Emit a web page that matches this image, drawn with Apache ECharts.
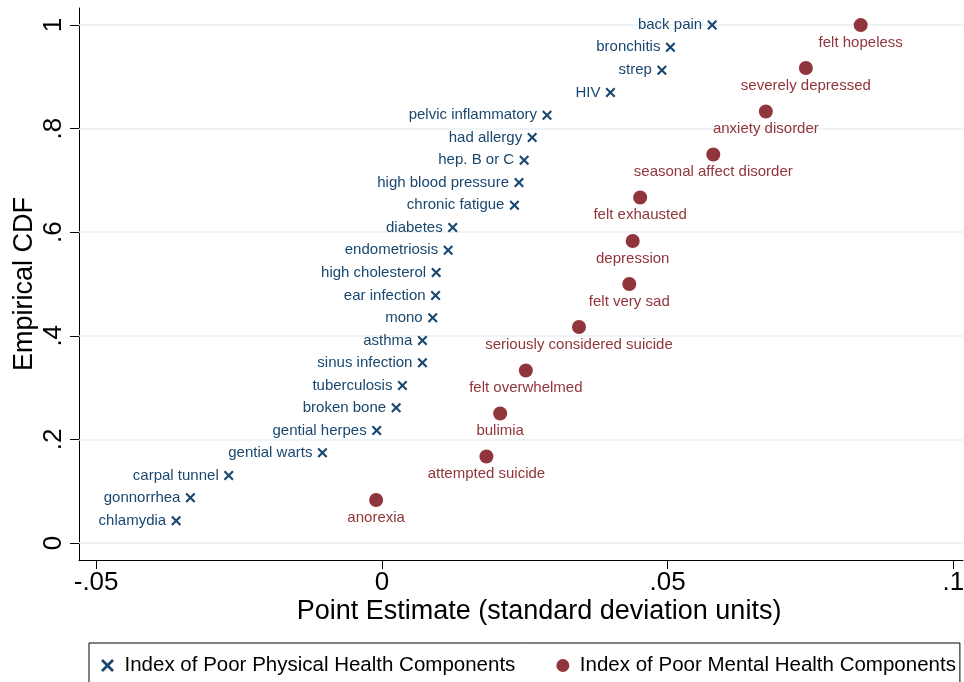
<!DOCTYPE html>
<html>
<head>
<meta charset="utf-8">
<script src="https://cdn.jsdelivr.net/npm/echarts@6/dist/echarts.min.js"></script>
<style>
  html,body{margin:0;padding:0;background:#fff;}
  #chart{width:964px;height:682px;}
</style>
</head>
<body>
<div id="chart"></div>
<script>
// physical health components (point estimate, empirical cdf)
var physNames=['chlamydia','gonnorrhea','carpal tunnel','gential warts','gential herpes','broken bone','tuberculosis','sinus infection','asthma','mono','ear infection','high cholesterol','endometriosis','diabetes','chronic fatigue','high blood pressure','hep. B or C','had allergy','pelvic inflammatory','HIV','strep','bronchitis','back pain'];
var physEst=[-0.0360,-0.0335,-0.0268,-0.0104,-0.0009,0.0025,0.0036,0.0071,0.0071,0.0089,0.0094,0.0095,0.0116,0.0124,0.0232,0.0240,0.0249,0.0263,0.0289,0.0400,0.0490,0.0505,0.0578];
var physCdf=[0.043,0.087,0.130,0.174,0.217,0.261,0.304,0.348,0.391,0.435,0.478,0.522,0.565,0.609,0.652,0.696,0.739,0.783,0.826,0.870,0.913,0.957,1];

// mental health components
var mentNames=['anorexia','attempted suicide','bulimia','felt overwhelmed','seriously considered suicide','felt very sad','depression','felt exhausted','seasonal affect disorder','anxiety disorder','severely depressed','felt hopeless'];
var mentEst=[-0.0010,0.0183,0.0207,0.0252,0.0345,0.0433,0.0439,0.0452,0.0580,0.0672,0.0742,0.0838];
var mentCdf=[0.083,0.167,0.25,0.333,0.417,0.5,0.583,0.667,0.75,0.833,0.917,1];

var xTicks=[-0.05,0,0.05,0.1];
var yTicks=[0,0.2,0.4,0.6,0.8,1];

var NAVY='#1a476f', MAROON='#90353b', FONT='Liberation Sans, Arial, sans-serif';
var xPath='path://M0,1.5L1.5,0L5,3.5L8.5,0L10,1.5L6.5,5L10,8.5L8.5,10L5,6.5L1.5,10L0,8.5L3.5,5Z';

function fmt(v){
    if(v===0) return '0';
    return String(+v.toFixed(3)).replace(/^(-?)0\./,'$1.');
}
function pts(est,cdf,names){
    return est.map(function(x,i){return [x,cdf[i],names[i]];});
}

var chart=echarts.init(document.getElementById('chart'));
chart.setOption({
    animation:false,
    textStyle:{fontFamily:FONT},
    grid:{left:79,right:1,top:8,bottom:122,outerBoundsMode:'none',containLabel:false},
    xAxis:{
        type:'value',min:-0.053,max:0.1017,
        name:'Point Estimate (standard deviation units)',
        nameLocation:'middle',nameGap:38,nameMoveOverlap:false,
        nameTextStyle:{fontSize:27,color:'#000',fontFamily:FONT,padding:[0,0,0,36]},
        axisLine:{onZero:false,lineStyle:{color:'#000',width:1}},
        axisTick:{customValues:xTicks,length:9,lineStyle:{color:'#000'}},
        axisLabel:{customValues:xTicks,formatter:fmt,fontSize:26,color:'#000',margin:10,fontFamily:FONT},
        splitLine:{show:false}
    },
    yAxis:{
        type:'value',min:-0.033,max:1.033,
        name:'Empirical CDF',
        nameLocation:'middle',nameGap:41,nameMoveOverlap:false,
        nameTextStyle:{fontSize:27,color:'#000',fontFamily:FONT},
        axisLine:{onZero:false,lineStyle:{color:'#000',width:1}},
        axisTick:{customValues:yTicks,length:9,lineStyle:{color:'#000'}},
        axisLabel:{customValues:yTicks,formatter:fmt,rotate:90,fontSize:26,color:'#000',margin:12,fontFamily:FONT},
        splitLine:{show:false}
    },
    legend:{
        left:89,right:0,top:643,
        padding:[12,4,30,12],
        borderColor:'#000',borderWidth:1,
        itemGap:41,itemWidth:24,itemHeight:13,
        textStyle:{fontSize:20.5,color:'#000',fontFamily:FONT},
        data:['Index of Poor Physical Health Components','Index of Poor Mental Health Components']
    },
    series:[
        {
            // gridlines only, kept under the markers and labels
            type:'line',data:[],silent:true,z:1,
            markLine:{
                silent:true,symbol:'none',z:1,
                label:{show:false},
                lineStyle:{color:'#e8eff3',width:1.5,type:'solid'},
                data:yTicks.map(function(v){return {yAxis:v};})
            }
        },
        {
            name:'Index of Poor Physical Health Components',
            type:'scatter',
            symbol:xPath,symbolSize:10,
            itemStyle:{color:NAVY,opacity:1},
            data:pts(physEst,physCdf,physNames),
            label:{show:true,position:'left',distance:5,
                formatter:function(p){return p.value[2];},
                color:NAVY,fontSize:15,fontFamily:FONT},
            z:3
        },
        {
            name:'Index of Poor Mental Health Components',
            type:'scatter',
            symbol:'circle',symbolSize:14,
            itemStyle:{color:MAROON,opacity:1},
            data:pts(mentEst,mentCdf,mentNames),
            label:{show:true,position:'bottom',distance:3,
                formatter:function(p){return p.value[2];},
                color:MAROON,fontSize:15,fontFamily:FONT},
            z:3
        }
    ]
});
</script>
</body>
</html>
